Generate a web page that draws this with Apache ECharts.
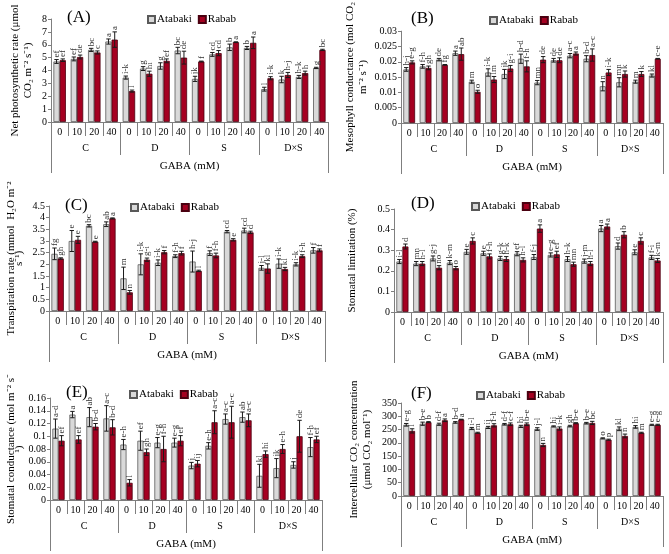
<!DOCTYPE html>
<html>
<head>
<meta charset="utf-8">
<script src="https://cdn.jsdelivr.net/npm/echarts@6/dist/echarts.min.js"></script>
<style>
    html, body { margin: 0; padding: 0; background: #fff; }
    #chart { width: 669px; height: 554px; }
</style>
</head>
<body>
<div id="chart"></div>
<script>
    // GABA levels inside each stress treatment
    const gabaLevels = ['0', '10', '20', '40', '0', '10', '20', '40', '0', '10', '20', '40', '0', '10', '20', '40']
    const treatments = ['C', 'D', 'S', 'D×S']
    const cultivars = ['Atabaki', 'Rabab']

    // (A) Net photosynthetic rate
    const pnAtabaki = [4.7, 4.9, 5.6, 6.25, 3.45, 4.15, 4.35, 5.55, 3.35, 5.25, 5.8, 5.75, 2.55, 3.3, 3.5, 4.2]
    const pnRabab = [4.8, 5.05, 5.4, 6.4, 2.4, 3.75, 4.75, 5.0, 4.7, 5.35, 6.2, 6.15, 3.4, 3.65, 3.8, 5.6]
    const pnAtabakiErr = [0.15, 0.15, 0.12, 0.2, 0.12, 0.15, 0.25, 0.25, 0.2, 0.15, 0.25, 0.12, 0.15, 0.25, 0.12, 0.05]
    const pnRababErr = [0.1, 0.15, 0.12, 0.6, 0.08, 0.2, 0.15, 0.5, 0.03, 0.2, 0.03, 0.45, 0.12, 0.2, 0.15, 0.05]
    const pnAtabakiLetters = ['ef', 'ef', 'bc', 'a', 'i-k', 'g', 'g', 'bc', 'jk', 'cd', 'b', 'b', 'l', 'k', 'h-k', 'g']
    const pnRababLetters = ['ef', 'de', 'c', 'a', 'l', 'hi', 'ef', 'de', 'f', 'cd', 'a', 'a', 'i-k', 'h-j', 'h', 'bc']

    // (B) Mesophyll conductance
    const gmAtabaki = [0.0175, 0.0185, 0.0207, 0.0228, 0.0135, 0.0165, 0.016, 0.021, 0.0132, 0.0205, 0.022, 0.021, 0.012, 0.0133, 0.0135, 0.0155]
    const gmRabab = [0.0198, 0.018, 0.019, 0.0225, 0.0102, 0.0142, 0.0178, 0.0185, 0.0207, 0.0205, 0.0227, 0.0222, 0.0165, 0.016, 0.016, 0.021]
    const gmAtabakiErr = [0.0006, 0.0006, 0.0004, 0.0007, 0.0005, 0.0012, 0.0015, 0.0015, 0.0007, 0.0006, 0.0007, 0.001, 0.0015, 0.0015, 0.0005, 0.0005]
    const gmRababErr = [0.0005, 0.0006, 0.0001, 0.002, 0.0005, 0.001, 0.001, 0.0018, 0.001, 0.0008, 0.0005, 0.002, 0.001, 0.001, 0.0008, 0.0001]
    const gmAtabakiLetters = ['h-j', 'f-h', 'de', 'a', 'm', 'i-k', 'jk', 'b-d', 'mn', 'de', 'a-c', 'b-d', 'n', 'mn', 'm', 'kl']
    const gmRababLetters = ['e-g', 'gh', 'fg', 'ab', 'o', 'lm', 'g-i', 'f-h', 'de', 'de', 'a', 'a-c', 'i-k', 'k', 'k', 'c-e']

    // (C) Transpiration rate
    const eAtabaki = [2.45, 3.0, 3.65, 3.72, 1.4, 2.0, 2.07, 2.35, 2.12, 2.48, 3.4, 3.45, 1.85, 2.03, 2.0, 2.6]
    const eRabab = [2.25, 3.05, 2.97, 3.97, 0.8, 2.2, 2.52, 2.48, 1.72, 2.38, 3.05, 3.37, 1.82, 1.8, 2.35, 2.6]
    const eAtabakiErr = [0.25, 0.45, 0.05, 0.1, 0.48, 0.45, 0.12, 0.06, 0.45, 0.1, 0.05, 0.1, 0.1, 0.2, 0.07, 0.12]
    const eRababErr = [0.03, 0.15, 0.02, 0.02, 0.08, 0.07, 0.07, 0.08, 0.03, 0.1, 0.05, 0.05, 0.2, 0.07, 0.06, 0.06]
    const eAtabakiLetters = ['fg', 'e', 'bc', 'ab', 'm', 'i-k', 'i-k', 'f-h', 'h-j', 'f', 'cd', 'cd', 'j-l', 'i-k', 'i-k', 'f']
    const eRababLetters = ['gh', 'e', 'e', 'a', 'n', 'g-i', 'f', 'f', 'l', 'f-h', 'e', 'd', 'kl', 'kl', 'f-h', 'f']

    // (D) Stomatal limitation
    const lsAtabaki = [0.245, 0.235, 0.26, 0.24, 0.292, 0.285, 0.26, 0.283, 0.267, 0.277, 0.257, 0.247, 0.405, 0.32, 0.29, 0.265]
    const lsRabab = [0.318, 0.235, 0.215, 0.213, 0.345, 0.27, 0.257, 0.253, 0.405, 0.28, 0.232, 0.235, 0.415, 0.375, 0.345, 0.25]
    const lsAtabakiErr = [0.01, 0.01, 0.012, 0.01, 0.012, 0.01, 0.01, 0.01, 0.012, 0.01, 0.012, 0.01, 0.015, 0.015, 0.012, 0.01]
    const lsRababErr = [0.012, 0.01, 0.01, 0.008, 0.015, 0.012, 0.012, 0.01, 0.018, 0.015, 0.01, 0.01, 0.012, 0.015, 0.015, 0.01]
    const lsAtabakiLetters = ['i-l', 'mn', 'g-j', 'k-m', 'e', 'e', 'g-k', 'ef', 'f-j', 'e-g', 'h-k', 'j-m', 'a', 'd', 'e', 'f-i']
    const lsRababLetters = ['d', 'h-l', 'no', 'o', 'c', 'f-h', 'h-k', 'h-l', 'a', 'ef', 'mn', 'h-l', 'a', 'b', 'c', 'k-m']

    // (E) Stomatal conductance
    const gsAtabaki = [0.112, 0.134, 0.13, 0.128, 0.087, 0.093, 0.09, 0.09, 0.054, 0.085, 0.127, 0.13, 0.038, 0.05, 0.055, 0.083]
    const gsRabab = [0.093, 0.095, 0.115, 0.114, 0.027, 0.075, 0.08, 0.093, 0.057, 0.122, 0.122, 0.125, 0.072, 0.08, 0.1, 0.095]
    const gsAtabakiErr = [0.015, 0.005, 0.015, 0.02, 0.008, 0.015, 0.008, 0.007, 0.005, 0.005, 0.008, 0.008, 0.018, 0.015, 0.005, 0.015]
    const gsRababErr = [0.008, 0.006, 0.005, 0.012, 0.005, 0.005, 0.02, 0.008, 0.005, 0.018, 0.025, 0.01, 0.005, 0.007, 0.025, 0.005]
    const gsAtabakiLetters = ['a-d', 'a', 'ab', 'a-c', 'e-h', 'ef', 'e-g', 'e-g', 'j', 'e-h', 'a-c', 'ab', 'kl', 'jk', 'j', 'f-h']
    const gsRababLetters = ['ef', 'ef', 'b-d', 'b-d', 'l', 'gh', 'f-h', 'ef', 'ij', 'a-c', 'a-c', 'a-c', 'hi', 'e-h', 'de', 'ef']

    // (F) Intercellular CO2 concentration
    const ciAtabaki = [268, 272, 270, 277, 254, 258, 270, 262, 252, 262, 263, 274, 217, 253, 260, 268]
    const ciRabab = [245, 278, 285, 288, 238, 266, 270, 270, 192, 254, 274, 275, 212, 226, 238, 268]
    const ciAtabakiErr = [5, 6, 4, 3, 4, 4, 3, 4, 5, 2, 3, 3, 2, 7, 5, 2]
    const ciRababErr = [8, 2, 5, 1, 2, 6, 5, 5, 6, 6, 2, 6, 2, 7, 2, 2]
    const ciAtabakiLetters = ['e-g', 'b-e', 'd-f', 'b-d', 'i-l', 'ij', 'd-f', 'hi', 'j-l', 'hi', 'gh', 'b-e', 'o', 'kl', 'hi', 'e-g']
    const ciRababLetters = ['l', 'b', 'a', 'a', 'm', 'f-h', 'c-f', 'b-e', 'n', 'i-k', 'b-e', 'bc', 'p', 'n', 'm', 'e-g']

    const FONT = 'Liberation Serif'
    const AXIS_GRAY = '#7f7f7f'

    const panels = [
        {
            label: '(A)', labelPos: [62, 4], legendPos: [142, 9],
            grid: { left: 51, top: 19, width: 277, height: 103 },
            max: 8, step: 1, name: 'Net photosynthetic rate (μmol\nCO₂ m⁻² s⁻¹)', nameGap: 16, lineHeight: 13,
            a: pnAtabaki, r: pnRabab, ae: pnAtabakiErr, re: pnRababErr, al: pnAtabakiLetters, rl: pnRababLetters
        },
        {
            label: '(B)', labelPos: [406, 5], legendPos: [484, 10],
            grid: { left: 401, top: 27, width: 262, height: 96 },
            max: 0.03, step: 0.005, name: 'Mesophyll conductance (mol CO₂\nm⁻² s⁻¹)', nameGap: 31, lineHeight: 13,
            a: gmAtabaki, r: gmRabab, ae: gmAtabakiErr, re: gmRababErr, al: gmAtabakiLetters, rl: gmRababLetters
        },
        {
            label: '(C)', labelPos: [60, 192], legendPos: [125, 197],
            grid: { left: 49, top: 206, width: 276, height: 105 },
            max: 4.5, step: 0.5, name: 'Transpiration rate (mmol  H₂O m⁻²\ns⁻¹)', nameGap: 26, lineHeight: 8,
            a: eAtabaki, r: eRabab, ae: eAtabakiErr, re: eRababErr, al: eAtabakiLetters, rl: eRababLetters
        },
        {
            label: '(D)', labelPos: [406, 190], legendPos: [466, 196],
            grid: { left: 394, top: 209, width: 269, height: 103 },
            max: 0.5, step: 0.1, name: 'Stomatal limitation (%)', nameGap: 35, lineHeight: 13,
            a: lsAtabaki, r: lsRabab, ae: lsAtabakiErr, re: lsRababErr, al: lsAtabakiLetters, rl: lsRababLetters
        },
        {
            label: '(E)', labelPos: [61, 379], legendPos: [124, 384],
            grid: { left: 50, top: 398, width: 272, height: 102 },
            max: 0.16, step: 0.02, name: 'Stomatal conductance (mol m⁻² s⁻\n¹)', nameGap: 26, lineHeight: 8,
            a: gsAtabaki, r: gsRabab, ae: gsAtabakiErr, re: gsRababErr, al: gsAtabakiLetters, rl: gsRababLetters
        },
        {
            label: '(F)', labelPos: [406, 380], legendPos: [471, 385],
            grid: { left: 401, top: 403, width: 262, height: 93 },
            max: 350, step: 50, name: 'Intercellular CO₂ concentration\n(μmol CO₂ mol⁻¹)', nameGap: 27, lineHeight: 13,
            a: ciAtabaki, r: ciRabab, ae: ciAtabakiErr, re: ciRababErr, al: ciAtabakiLetters, rl: ciRababLetters
        }
    ]

    const BAR_WIDTH = 0.36

    // error bar + significance letter, drawn over one of the two bars in a band
    function errorBars(letters, side) {
        return function (params, api) {
            const idx = api.value(0)
            const v = api.value(1)
            const e = api.value(2)
            const band = api.size([1, 0])[0]
            const x = api.coord([idx, v])[0] + side * band * BAR_WIDTH / 2
            const top = api.coord([idx, v + e])[1]
            const bot = api.coord([idx, v - e])[1]
            const cap = 2.2
            const stroke = { stroke: '#1a1a1a', lineWidth: 1 }
            return {
                type: 'group',
                children: [
                    { type: 'line', shape: { x1: x, y1: top, x2: x, y2: bot }, style: stroke },
                    { type: 'line', shape: { x1: x - cap, y1: top, x2: x + cap, y2: top }, style: stroke },
                    { type: 'line', shape: { x1: x - cap, y1: bot, x2: x + cap, y2: bot }, style: stroke },
                    {
                        type: 'text', x: x, y: top - 2, rotation: Math.PI / 2,
                        style: {
                            text: letters[params.dataIndex], fill: '#333',
                            font: '9px "' + FONT + '"', align: 'left', verticalAlign: 'middle'
                        }
                    }
                ]
            }
        }
    }

    const option = {
        animation: false,
        backgroundColor: '#fff',
        title: [], legend: [], grid: [], xAxis: [], yAxis: [], series: []
    }

    panels.forEach(function (p, i) {
        option.title.push({
            text: p.label, left: p.labelPos[0], top: p.labelPos[1],
            textStyle: { fontFamily: FONT, fontSize: 17, fontWeight: 'normal', color: '#000' }
        })
        option.legend.push({
            data: cultivars, left: p.legendPos[0], top: p.legendPos[1],
            icon: 'rect', itemWidth: 7, itemHeight: 7, itemGap: 6,
            textStyle: { fontFamily: FONT, fontSize: 11, color: '#000', padding: [0, 0, 0, -3] },
            selectedMode: false
        })
        option.grid.push(Object.assign({ containLabel: false }, p.grid))

        const tickStyle = { color: AXIS_GRAY, width: 1 }
        const labelStyle = { fontFamily: FONT, fontSize: 10, color: '#000' }
        option.xAxis.push({
            type: 'category', gridIndex: i, data: gabaLevels,
            axisLine: { show: true, lineStyle: tickStyle },
            axisTick: { show: true, alignWithLabel: false, interval: 0, length: 14, lineStyle: tickStyle },
            axisLabel: Object.assign({ interval: 0, margin: 5 }, labelStyle)
        })
        option.xAxis.push({
            type: 'category', gridIndex: i, data: treatments, position: 'bottom',
            axisLine: { show: false },
            axisTick: { show: true, alignWithLabel: false, interval: 0, length: 33, lineStyle: tickStyle },
            axisLabel: Object.assign({ interval: 0, margin: 21 }, labelStyle)
        })
        option.xAxis.push({
            type: 'category', gridIndex: i, data: ['GABA (mM)'], position: 'bottom',
            axisLine: { show: false },
            axisTick: { show: true, alignWithLabel: false, interval: 0, length: 51, lineStyle: tickStyle },
            axisLabel: Object.assign({ interval: 0, margin: 39 }, labelStyle, { fontSize: 11 })
        })
        option.yAxis.push({
            type: 'value', gridIndex: i, min: 0, max: p.max, interval: p.step,
            name: p.name, nameLocation: 'middle', nameGap: p.nameGap,
            nameTextStyle: { fontFamily: FONT, fontSize: 11, color: '#000', lineHeight: p.lineHeight },
            axisLine: { show: true, lineStyle: tickStyle },
            axisTick: { show: true, length: 3, lineStyle: tickStyle },
            axisLabel: Object.assign({ margin: 4 }, labelStyle),
            splitLine: { show: false }
        })

        const xi = i * 3
        option.series.push({
            name: 'Atabaki', type: 'bar', xAxisIndex: xi, yAxisIndex: i,
            barWidth: (BAR_WIDTH * 100) + '%', barGap: '0%',
            itemStyle: { color: '#d9d9d9', borderColor: '#595959', borderWidth: 0.8 },
            data: p.a
        })
        option.series.push({
            name: 'Rabab', type: 'bar', xAxisIndex: xi, yAxisIndex: i,
            barWidth: (BAR_WIDTH * 100) + '%', barGap: '0%',
            itemStyle: { color: '#a50021', borderColor: '#4a0010', borderWidth: 0.8 },
            data: p.r
        })
        option.series.push({
            name: 'errAtabaki' + i, type: 'custom', xAxisIndex: xi, yAxisIndex: i, z: 5, clip: false,
            renderItem: errorBars(p.al, -1),
            data: p.a.map(function (v, k) { return [k, v, p.ae[k]] })
        })
        option.series.push({
            name: 'errRabab' + i, type: 'custom', xAxisIndex: xi, yAxisIndex: i, z: 5, clip: false,
            renderItem: errorBars(p.rl, 1),
            data: p.r.map(function (v, k) { return [k, v, p.re[k]] })
        })
    })

    const chart = echarts.init(document.getElementById('chart'), null, { renderer: 'canvas' })
    chart.setOption(option)
</script>
</body>
</html>
